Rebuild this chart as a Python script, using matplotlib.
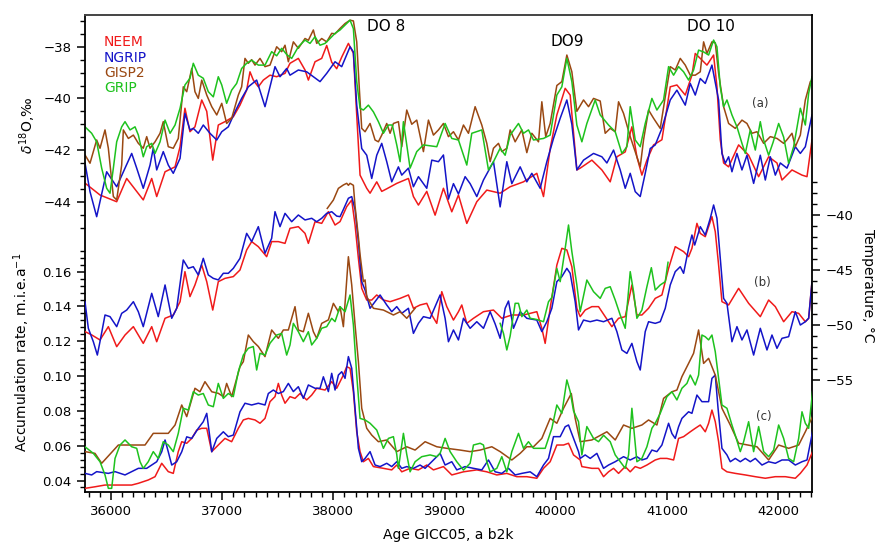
"""Greenland ice core records across DO 8-10: d18O, temperature and accumulation"""

import numpy as np
import matplotlib
matplotlib.use("Agg")
import matplotlib.pyplot as plt
from matplotlib.ticker import FixedLocator

# ---------------- data ----------------
# (a) d18O, permil
neem_a_age = [35766, 35901, 36051, 36141, 36290, 36366, 36411, 36486, 36576, 36621, 36665, 36710, 36755, 36816,
              36861, 36915, 36965, 37025, 37100, 37160, 37220, 37250, 37280, 37325, 37370, 37430, 37490, 37565,
              37610, 37685, 37745, 37775, 37835, 37895, 37940, 37985, 38030, 38075, 38135, 38180, 38210, 38240,
              38300, 38330, 38390, 38435, 38480, 38570, 38675, 38720, 38765, 38840, 38915, 38990, 39065, 39125,
              39200, 39290, 39380, 39500, 39590, 39710, 39830, 39890, 39950, 40010, 40085, 40130, 40190, 40220,
              40325, 40415, 40490, 40550, 40625, 40685, 40730, 40775, 40820, 40880, 40955, 41030, 41090, 41165,
              41225, 41255, 41300, 41360, 41420, 41450, 41480, 41510, 41555, 41645, 41735, 41825, 41915, 41990,
              42035, 42125, 42215, 42260, 42305]
neem_a = [-43.28, -43.74, -44.0, -43.1, -43.93, -43.1, -43.8, -42.84, -42.65, -41.87, -40.38, -41.29, -41.1, -40.06,
          -40.5, -42.39, -41.03, -40.9, -40.71, -40.26, -39.68, -38.97, -39.29, -39.55, -39.29, -39.1, -39.16, -39.03,
          -38.64, -38.45, -38.9, -39.29, -38.58, -38.45, -37.95, -38.6, -38.85, -38.4, -37.87, -38.25, -40.64, -42.97,
          -43.48, -43.67, -43.23, -43.6, -43.5, -43.29, -43.1, -43.8, -44.13, -43.6, -44.52, -43.48, -44.39, -43.74,
          -44.84, -44.0, -43.55, -43.67, -43.42, -43.23, -42.9, -43.8, -41.94, -40.64, -39.61, -39.87, -42.77, -42.7,
          -42.39, -42.77, -43.23, -42.26, -42.07, -41.1, -42.26, -42.97, -42.39, -41.8, -41.6, -39.55, -39.48, -39.87,
          -39.1, -38.26, -38.45, -38.71, -38.32, -39.55, -41.6, -42.5, -42.65, -41.8, -42.2, -43.03, -42.26, -42.5,
          -43.16, -42.77, -42.97, -43.03, -41.61]

ngrip_a_age = [35766, 35811, 35871, 35916, 35961, 36051, 36126, 36186, 36231, 36290, 36351, 36380, 36411, 36470,
               36515, 36560, 36621, 36665, 36710, 36740, 36785, 36830, 36890, 36951, 36996, 37055, 37115, 37175,
               37235, 37310, 37385, 37430, 37475, 37520, 37580, 37610, 37685, 37760, 37820, 37880, 37940, 38015,
               38075, 38150, 38180, 38210, 38255, 38300, 38345, 38390, 38435, 38480, 38525, 38585, 38615, 38675,
               38720, 38765, 38840, 38885, 38945, 38990, 39035, 39080, 39125, 39185, 39230, 39290, 39350, 39440,
               39500, 39560, 39605, 39680, 39740, 39785, 39860, 39920, 39980, 40040, 40100, 40145, 40190, 40250,
               40340, 40415, 40460, 40520, 40580, 40625, 40670, 40715, 40760, 40805, 40850, 40895, 40955, 41030,
               41090, 41165, 41210, 41255, 41300, 41345, 41405, 41465, 41495, 41525, 41555, 41585, 41630, 41675,
               41720, 41780, 41840, 41885, 41930, 41975, 42020, 42080, 42155, 42200, 42245, 42305]
ngrip_a = [-42.5, -43.61, -44.58, -43.7, -42.84, -43.42, -42.7, -42.13, -42.7, -43.48, -42.58, -41.93, -42.77, -42.06,
           -42.58, -42.9, -42.32, -40.58, -41.22, -41.16, -41.35, -41.03, -41.35, -41.61, -41.29, -41.1, -40.52, -40.0,
           -39.55, -39.29, -40.32, -39.55, -38.77, -39.16, -38.84, -39.1, -38.9, -38.97, -39.16, -39.35, -39.03, -38.58,
           -38.77, -38.0, -38.2, -40.25, -41.94, -42.2, -43.1, -42.2, -41.74, -42.45, -43.23, -42.65, -42.97, -42.7,
           -43.42, -43.03, -43.48, -42.39, -42.45, -42.19, -43.9, -43.3, -43.7, -43.03, -43.3, -43.8, -43.16, -42.45,
           -44.2, -42.45, -43.3, -42.65, -43.23, -42.9, -43.48, -42.45, -41.55, -40.77, -40.06, -41.0, -42.77, -42.39,
           -42.13, -42.26, -42.5, -42.0, -42.77, -43.48, -42.9, -43.61, -43.8, -42.9, -41.94, -41.8, -41.16, -40.06,
           -39.68, -40.26, -39.42, -39.87, -39.23, -39.42, -38.71, -40.06, -42.13, -42.51, -42.26, -42.84, -42.13, -42.77,
           -42.2, -43.29, -42.2, -43.16, -42.26, -42.97, -42.5, -42.7, -41.87, -42.13, -41.87, -40.64]

gisp2_a_age = [35766, 35811, 35871, 35901, 35946, 35976, 36021, 36051, 36096, 36111, 36156, 36201, 36246, 36290,
               36321, 36351, 36396, 36441, 36470, 36515, 36560, 36605, 36650, 36681, 36726, 36755, 36785, 36816,
               36861, 36906, 36951, 36996, 37040, 37085, 37145, 37175, 37205, 37235, 37265, 37295, 37340, 37385,
               37430, 37490, 37535, 37565, 37595, 37640, 37685, 37745, 37775, 37820, 37850, 37895, 37940, 37985,
               38015, 38060, 38105, 38150, 38180, 38210, 38235, 38255, 38285, 38330, 38375, 38405, 38435, 38480,
               38510, 38540, 38585, 38615, 38660, 38705, 38750, 38810, 38855, 38900, 38945, 38990, 39035, 39080,
               39125, 39170, 39215, 39275, 39335, 39380, 39410, 39440, 39485, 39515, 39560, 39590, 39635, 39695,
               39740, 39785, 39845, 39875, 39910, 39950, 40010, 40055, 40100, 40145, 40190, 40250, 40295, 40340,
               40400, 40445, 40490, 40535, 40565, 40610, 40670, 40715, 40760, 40790, 40835, 40880, 40940, 40985,
               41030, 41075, 41120, 41165, 41210, 41255, 41300, 41330, 41360, 41405, 41435, 41465, 41510, 41555,
               41615, 41675, 41720, 41765, 41810, 41870, 41930, 41990, 42050, 42080, 42125, 42155, 42200, 42245,
               42290, 42305]
gisp2_a = [-42.19, -42.51, -41.61, -41.93, -41.22, -41.93, -43.8, -43.93, -42.58, -41.22, -41.55, -41.42, -41.74, -41.93,
           -41.48, -41.93, -41.68, -41.35, -40.9, -41.87, -41.93, -41.55, -39.55, -39.74, -38.84, -39.74, -40.0, -39.29,
           -39.87, -40.32, -40.64, -40.19, -40.97, -40.77, -39.87, -39.55, -38.45, -38.64, -38.5, -38.71, -38.45, -38.77,
           -38.71, -38.0, -38.19, -37.94, -38.58, -37.81, -38.06, -37.68, -37.75, -37.35, -37.87, -37.68, -37.81, -37.48,
           -37.5, -37.29, -37.1, -36.97, -37.0, -37.81, -39.74, -41.16, -41.29, -40.97, -41.61, -41.68, -41.42, -40.97,
           -41.35, -40.97, -40.9, -41.87, -40.45, -41.0, -40.84, -42.06, -40.84, -41.42, -41.22, -40.97, -41.48, -41.29,
           -41.61, -41.03, -41.35, -40.32, -41.03, -41.74, -42.45, -41.93, -41.74, -42.06, -41.93, -41.22, -41.68, -41.22,
           -42.1, -41.35, -41.68, -40.13, -41.48, -40.97, -39.5, -39.35, -38.32, -38.97, -40.5, -40.06, -40.32, -40.0,
           -40.1, -41.35, -41.16, -41.29, -40.13, -40.58, -41.48, -42.06, -42.65, -41.6, -40.45, -40.77, -41.16, -39.94,
           -38.77, -38.9, -38.45, -38.71, -39.1, -39.1, -38.97, -37.81, -38.26, -37.81, -37.85, -39.03, -40.32, -40.97,
           -41.16, -40.84, -40.97, -41.35, -41.29, -41.74, -41.48, -41.55, -41.74, -41.6, -41.35, -41.87, -41.42, -40.06,
           -39.35, -39.3]

grip_a_age = [35766, 35826, 35871, 35916, 35961, 35991, 36021, 36051, 36096, 36126, 36171, 36216, 36246, 36290,
              36321, 36366, 36396, 36441, 36486, 36531, 36576, 36621, 36665, 36710, 36740, 36785, 36830, 36875,
              36920, 36965, 36996, 37040, 37085, 37130, 37175, 37220, 37265, 37325, 37385, 37445, 37490, 37535,
              37580, 37625, 37685, 37745, 37790, 37835, 37880, 37925, 37970, 38015, 38060, 38105, 38150, 38180,
              38210, 38240, 38270, 38315, 38360, 38405, 38450, 38495, 38530, 38570, 38600, 38630, 38690, 38750,
              38810, 38930, 39005, 39065, 39125, 39200, 39245, 39335, 39395, 39440, 39500, 39545, 39590, 39665,
              39710, 39755, 39800, 39890, 39950, 40010, 40055, 40100, 40145, 40190, 40235, 40280, 40355, 40400,
              40475, 40535, 40595, 40640, 40670, 40715, 40760, 40805, 40865, 40910, 40970, 41015, 41060, 41105,
              41150, 41195, 41240, 41285, 41330, 41375, 41420, 41450, 41480, 41510, 41540, 41585, 41630, 41675,
              41705, 41750, 41795, 41840, 41870, 41915, 41955, 42005, 42050, 42095, 42140, 42200, 42245, 42275,
              42305]
grip_a = [-41.1, -41.35, -41.68, -42.7, -43.48, -43.67, -42.7, -41.68, -41.1, -40.9, -41.22, -41.1, -41.42, -42.26,
          -41.87, -41.74, -42.13, -41.68, -40.84, -41.35, -41.03, -40.38, -39.48, -39.22, -38.64, -39.1, -39.22, -39.74,
          -39.94, -39.16, -39.48, -40.19, -39.68, -39.42, -38.84, -38.64, -38.52, -38.71, -38.71, -38.19, -38.35, -38.06,
          -38.3, -38.45, -38.0, -37.74, -37.87, -37.61, -37.94, -37.87, -37.68, -37.48, -37.35, -37.16, -36.97, -37.3,
          -39.35, -40.38, -40.45, -40.26, -40.52, -40.9, -41.35, -41.03, -41.03, -41.8, -42.45, -40.9, -42.7, -42.06,
          -41.8, -41.87, -40.97, -41.55, -41.61, -42.58, -41.35, -41.22, -42.77, -42.45, -41.93, -42.2, -41.42, -40.97,
          -41.35, -41.22, -41.61, -41.55, -41.42, -39.87, -39.55, -38.45, -39.35, -41.03, -41.68, -40.97, -40.06, -40.64,
          -41.03, -41.29, -42.13, -41.87, -40.32, -41.61, -41.87, -40.97, -40.0, -40.45, -40.06, -38.77, -39.1, -38.77,
          -38.97, -39.29, -38.9, -38.13, -38.2, -38.32, -37.74, -38.0, -39.55, -40.32, -40.06, -40.64, -41.1, -41.74,
          -42.13, -41.22, -42.0, -40.9, -41.61, -42.2, -41.7, -40.97, -41.5, -42.51, -41.87, -40.38, -41.03, -39.8,
          -39.16]

# (b) temperature, deg C
neem_b_age = [35766, 35826, 35901, 35976, 36051, 36126, 36201, 36290, 36366, 36411, 36486, 36560, 36621, 36665,
              36710, 36755, 36816, 36861, 36915, 36965, 37025, 37100, 37160, 37220, 37265, 37325, 37400, 37445,
              37505, 37565, 37610, 37685, 37745, 37775, 37835, 37895, 37955, 38015, 38060, 38120, 38165, 38195,
              38225, 38255, 38300, 38345, 38390, 38450, 38510, 38600, 38675, 38720, 38780, 38840, 38885, 38930,
              38975, 39020, 39080, 39125, 39155, 39200, 39260, 39350, 39440, 39515, 39605, 39710, 39830, 39875,
              39905, 39950, 40010, 40055, 40100, 40145, 40190, 40220, 40265, 40325, 40385, 40445, 40505, 40565,
              40625, 40685, 40730, 40775, 40835, 40895, 40955, 41015, 41075, 41150, 41195, 41225, 41270, 41300,
              41345, 41405, 41435, 41465, 41495, 41555, 41645, 41735, 41840, 41915, 41975, 42050, 42125, 42185,
              42245, 42275, 42305]
neem_b = [-50.6, -50.9, -51.36, -50.15, -51.97, -50.91, -50.15, -51.67, -50.15, -51.52, -49.39, -49.09, -47.88, -45.15,
          -47.42, -46.36, -44.55, -46.06, -48.64, -46.06, -45.76, -45.6, -45.0, -43.18, -42.42, -42.88, -43.79, -42.42,
          -42.42, -42.58, -41.21, -41.06, -41.67, -42.58, -40.61, -40.76, -39.7, -40.91, -40.6, -39.24, -38.64, -40.91,
          -43.94, -46.67, -47.73, -47.73, -47.27, -47.73, -47.88, -47.58, -47.27, -48.48, -48.18, -48.03, -49.09, -49.85,
          -46.97, -48.33, -49.55, -48.79, -48.18, -49.85, -49.39, -48.79, -48.64, -49.39, -49.09, -49.09, -48.79, -50.3,
          -51.67, -48.48, -44.55, -43.03, -43.18, -44.7, -48.48, -49.24, -48.64, -48.33, -48.33, -49.24, -50.15, -49.39,
          -49.24, -46.36, -49.09, -49.09, -48.48, -47.58, -47.27, -44.85, -42.88, -43.33, -43.79, -43.03, -40.76, -41.67,
          -41.97, -40.15, -41.52, -44.55, -47.88, -48.18, -46.67, -48.03, -49.24, -47.73, -48.33, -49.7, -48.79, -48.94,
          -49.7, -49.39, -46.06]

ngrip_b_age = [35766, 35796, 35841, 35877, 35901, 35946, 35991, 36051, 36096, 36141, 36201, 36246, 36290, 36366,
               36425, 36486, 36546, 36591, 36650, 36695, 36740, 36785, 36830, 36875, 36920, 36965, 37010, 37055,
               37100, 37160, 37220, 37265, 37325, 37385, 37445, 37475, 37520, 37565, 37625, 37685, 37745, 37805,
               37850, 37895, 37940, 37985, 38030, 38060, 38090, 38135, 38165, 38195, 38225, 38255, 38285, 38330,
               38375, 38420, 38480, 38525, 38570, 38615, 38675, 38720, 38765, 38810, 38870, 38915, 38960, 39005,
               39035, 39080, 39125, 39170, 39230, 39290, 39350, 39410, 39455, 39500, 39545, 39575, 39620, 39680,
               39740, 39830, 39875, 39920, 39965, 40010, 40055, 40100, 40130, 40175, 40205, 40250, 40310, 40370,
               40430, 40505, 40550, 40595, 40640, 40685, 40730, 40760, 40805, 40835, 40895, 40940, 40985, 41030,
               41075, 41120, 41150, 41195, 41225, 41250, 41300, 41345, 41390, 41420, 41450, 41480, 41510, 41540,
               41585, 41630, 41675, 41720, 41780, 41840, 41900, 41945, 41990, 42035, 42095, 42155, 42200, 42245,
               42275, 42305]
ngrip_b = [-47.88, -50.3, -51.52, -52.73, -51.5, -49.09, -49.24, -50.15, -48.94, -48.64, -47.88, -48.8, -50.15, -47.12,
           -49.24, -46.36, -49.39, -48.48, -44.09, -44.85, -44.7, -45.45, -43.94, -45.45, -45.76, -45.9, -45.3, -45.3,
           -44.85, -43.94, -41.67, -42.42, -41.06, -43.48, -42.12, -39.7, -41.06, -39.85, -40.61, -40.0, -40.45, -40.3,
           -40.61, -40.3, -39.85, -39.7, -40.1, -40.15, -39.5, -38.48, -38.33, -39.5, -42.42, -46.06, -46.82, -48.48,
           -47.88, -47.27, -48.18, -48.79, -48.33, -48.94, -48.48, -50.76, -49.85, -49.24, -49.39, -48.33, -47.27, -49.39,
           -51.52, -50.45, -51.36, -49.39, -50.3, -49.7, -50.3, -48.79, -49.9, -51.21, -48.48, -47.82, -50.3, -48.79,
           -49.39, -49.55, -50.6, -49.7, -48.48, -46.06, -45.6, -44.85, -45.3, -47.88, -50.45, -49.55, -49.7, -49.55,
           -49.7, -49.39, -50.6, -52.27, -52.58, -51.67, -53.33, -54.09, -50.6, -49.7, -49.85, -49.7, -48.48, -46.36,
           -45.15, -44.7, -45.3, -43.03, -41.82, -42.73, -41.06, -41.82, -40.3, -39.09, -40.3, -43.94, -47.58, -48.03,
           -51.52, -50.15, -51.36, -50.45, -52.73, -50.3, -52.27, -50.91, -52.12, -51.21, -51.06, -48.79, -50.0, -49.7,
           -49.39, -46.06]

gisp2_b_age = [37945, 38000, 38045, 38090, 38120, 38135, 38150, 38180, 38195, 38225, 38240, 38270, 38285, 38300,
               38360, 38450, 38540, 38600, 38660, 38735]
gisp2_b = [-39.4, -38.64, -37.58, -37.27, -37.12, -37.3, -37.12, -37.3, -39.2, -42.0, -43.6, -46.06, -45.9, -47.42,
           -48.48, -48.64, -49.09, -48.79, -49.39, -48.48]

grip_b_age = [39500, 39530, 39560, 39590, 39635, 39665, 39695, 39740, 39770, 39830, 39890, 39935, 39965, 40010,
              40040, 40085, 40115, 40145, 40190, 40220, 40280, 40340, 40400, 40445, 40490, 40535, 40580, 40625,
              40670, 40700, 40730, 40775, 40820, 40860, 40895, 40940, 40985, 41010]
grip_b = [-49.85, -50.76, -52.27, -51.0, -48.03, -48.03, -49.24, -48.64, -49.39, -49.5, -49.7, -47.88, -47.5, -44.85,
          -46.06, -43.03, -40.91, -43.33, -46.36, -48.79, -45.91, -46.97, -47.58, -46.67, -46.52, -47.73, -49.09, -50.3,
          -45.15, -46.97, -49.39, -48.64, -46.52, -44.79, -46.82, -46.36, -46.06, -44.3]

# (c) accumulation rate, m ice eq. per year
neem_c_age = [35766, 35856, 35946, 36186, 36246, 36335, 36396, 36456, 36515, 36560, 36605, 36636, 36681, 36726,
              36771, 36816, 36861, 36906, 36965, 37025, 37085, 37145, 37190, 37235, 37295, 37340, 37385, 37430,
              37475, 37505, 37535, 37565, 37610, 37655, 37700, 37760, 37805, 37850, 37925, 37985, 38030, 38090,
              38120, 38150, 38180, 38210, 38240, 38270, 38315, 38360, 38450, 38525, 38570, 38615, 38690, 38765,
              38840, 38900, 38990, 39065, 39170, 39290, 39380, 39470, 39560, 39650, 39740, 39830, 39890, 39950,
              40010, 40070, 40115, 40160, 40220, 40235, 40325, 40385, 40430, 40475, 40520, 40565, 40625, 40670,
              40715, 40760, 40820, 40895, 40940, 41000, 41060, 41105, 41150, 41210, 41255, 41300, 41345, 41375,
              41405, 41435, 41465, 41495, 41540, 41615, 41705, 41795, 41885, 41975, 42065, 42155, 42200, 42260,
              42310]
neem_c = [0.0355, 0.0364, 0.0374, 0.0374, 0.0384, 0.0403, 0.0422, 0.0499, 0.0451, 0.0441, 0.0566, 0.0623, 0.0614, 0.0642,
          0.069, 0.070, 0.070, 0.0566, 0.0604, 0.0642, 0.0623, 0.070, 0.0748, 0.0757, 0.0748, 0.0729, 0.0757, 0.0853,
          0.0882, 0.0958, 0.0891, 0.0844, 0.0882, 0.0872, 0.090, 0.0863, 0.0891, 0.093, 0.092, 0.0968, 0.093, 0.1006,
          0.1054, 0.1045, 0.091, 0.068, 0.0566, 0.0508, 0.0527, 0.048, 0.047, 0.0461, 0.0489, 0.045, 0.047, 0.0461,
          0.0489, 0.0461, 0.048, 0.0432, 0.045, 0.0461, 0.045, 0.0432, 0.0441, 0.0422, 0.0422, 0.0413, 0.047, 0.0508,
          0.0604, 0.0604, 0.0614, 0.0547, 0.0518, 0.048, 0.047, 0.047, 0.0422, 0.045, 0.047, 0.0441, 0.048, 0.045,
          0.048, 0.047, 0.0489, 0.0518, 0.0527, 0.0527, 0.0518, 0.0642, 0.0652, 0.068, 0.070, 0.0719, 0.068, 0.0729,
          0.0805, 0.0738, 0.0623, 0.047, 0.045, 0.0441, 0.0432, 0.0422, 0.0413, 0.0422, 0.0422, 0.0413, 0.0441, 0.0489,
          0.0566]

ngrip_c_age = [35766, 35826, 35871, 35976, 36036, 36126, 36246, 36321, 36366, 36411, 36456, 36486, 36515, 36546,
               36591, 36636, 36681, 36726, 36785, 36830, 36861, 36906, 36951, 37010, 37055, 37100, 37160, 37205,
               37265, 37325, 37385, 37415, 37460, 37505, 37550, 37595, 37640, 37685, 37730, 37775, 37835, 37880,
               37910, 37955, 37985, 38015, 38045, 38075, 38105, 38135, 38165, 38195, 38225, 38255, 38285, 38330,
               38375, 38420, 38480, 38525, 38570, 38615, 38660, 38720, 38780, 38825, 38885, 38960, 39005, 39065,
               39110, 39185, 39260, 39335, 39395, 39455, 39515, 39575, 39635, 39695, 39770, 39830, 39890, 39935,
               39980, 40040, 40085, 40115, 40160, 40205, 40220, 40265, 40310, 40370, 40430, 40475, 40535, 40610,
               40670, 40730, 40775, 40820, 40865, 40910, 40955, 41015, 41045, 41075, 41105, 41135, 41195, 41225,
               41270, 41315, 41375, 41405, 41435, 41460, 41495, 41540, 41570, 41615, 41660, 41705, 41750, 41795,
               41855, 41915, 41975, 42035, 42095, 42155, 42215, 42260, 42310]
ngrip_c = [0.0441, 0.0432, 0.0451, 0.0441, 0.0451, 0.0432, 0.047, 0.047, 0.0489, 0.0508, 0.0565, 0.0633, 0.0565, 0.0489,
           0.0508, 0.0565, 0.0651, 0.0642, 0.070, 0.0738, 0.0786, 0.0565, 0.0642, 0.068, 0.0652, 0.0661, 0.0795, 0.0844,
           0.0834, 0.0844, 0.0834, 0.090, 0.092, 0.090, 0.0911, 0.0958, 0.0911, 0.0939, 0.0872, 0.0949, 0.093, 0.093,
           0.0996, 0.0911, 0.1016, 0.092, 0.1006, 0.1025, 0.0987, 0.1112, 0.1045, 0.0815, 0.0585, 0.0508, 0.0527, 0.0566,
           0.0489, 0.048, 0.0499, 0.048, 0.0508, 0.047, 0.048, 0.047, 0.0489, 0.047, 0.0508, 0.0556, 0.0489, 0.0508,
           0.0461, 0.048, 0.047, 0.0461, 0.0518, 0.045, 0.0441, 0.047, 0.0432, 0.0441, 0.045, 0.0422, 0.0489, 0.0527,
           0.0652, 0.0652, 0.0709, 0.0719, 0.0642, 0.0566, 0.0527, 0.0547, 0.0527, 0.0556, 0.047, 0.0489, 0.0508, 0.0537,
           0.0518, 0.0537, 0.0518, 0.0527, 0.0575, 0.0566, 0.0604, 0.0729, 0.067, 0.0642, 0.0709, 0.0757, 0.0795, 0.0786,
           0.0891, 0.0853, 0.0853, 0.0987, 0.1006, 0.0815, 0.0585, 0.0547, 0.0508, 0.0527, 0.0508, 0.0527, 0.0508, 0.0527,
           0.0489, 0.0508, 0.0499, 0.0518, 0.0518, 0.0489, 0.0508, 0.0518, 0.068]

gisp2_c_age = [35766, 35856, 35916, 36066, 36306, 36380, 36515, 36576, 36636, 36681, 36755, 36800, 36845, 36906,
               36965, 37010, 37040, 37085, 37160, 37190, 37235, 37280, 37325, 37385, 37445, 37505, 37550, 37595,
               37655, 37685, 37730, 37775, 37820, 37850, 37895, 37955, 38000, 38045, 38060, 38090, 38135, 38165,
               38195, 38225, 38255, 38300, 38345, 38405, 38480, 38570, 38660, 38735, 38825, 38930, 39020, 39140,
               39230, 39320, 39425, 39500, 39605, 39680, 39740, 39800, 39875, 39950, 40010, 40070, 40140, 40175,
               40220, 40325, 40460, 40535, 40610, 40685, 40775, 40835, 40910, 40970, 41045, 41090, 41135, 41195,
               41240, 41285, 41330, 41375, 41435, 41495, 41570, 41645, 41810, 41915, 42005, 42095, 42185, 42245,
               42310]
gisp2_c = [0.0566, 0.0556, 0.0499, 0.0604, 0.0604, 0.0671, 0.0671, 0.0719, 0.0834, 0.0767, 0.093, 0.091, 0.0968, 0.091,
           0.0901, 0.0882, 0.0958, 0.0882, 0.1054, 0.1083, 0.1236, 0.1198, 0.117, 0.1112, 0.1265, 0.1217, 0.1265, 0.1265,
           0.1399, 0.1265, 0.1255, 0.1361, 0.1255, 0.1217, 0.1303, 0.1323, 0.1418, 0.137, 0.1399, 0.1284, 0.1686, 0.1524,
           0.1294, 0.1083, 0.0815, 0.070, 0.0661, 0.0623, 0.0633, 0.0566, 0.0594, 0.0575, 0.0623, 0.0594, 0.0585, 0.0575,
           0.0566, 0.0575, 0.0594, 0.0566, 0.0518, 0.0556, 0.0594, 0.0594, 0.0642, 0.0757, 0.0729, 0.0815, 0.090, 0.0757,
           0.0623, 0.0633, 0.068, 0.0633, 0.0719, 0.070, 0.0719, 0.0748, 0.0719, 0.0872, 0.091, 0.092, 0.0997, 0.1073,
           0.1131, 0.1265, 0.1073, 0.1102, 0.1006, 0.0815, 0.0719, 0.0614, 0.0594, 0.0518, 0.0604, 0.0585, 0.0604, 0.068,
           0.0767]

grip_c_age = [35766, 35841, 35901, 35946, 35976, 36006, 36036, 36081, 36126, 36186, 36231, 36261, 36290, 36335,
              36380, 36425, 36470, 36515, 36560, 36605, 36650, 36695, 36740, 36785, 36830, 36875, 36920, 36965,
              37010, 37055, 37100, 37145, 37190, 37235, 37280, 37310, 37340, 37385, 37430, 37490, 37535, 37580,
              37610, 37640, 37685, 37730, 37775, 37805, 37850, 37895, 37940, 37985, 38015, 38060, 38105, 38150,
              38180, 38210, 38240, 38285, 38330, 38390, 38450, 38495, 38540, 38570, 38585, 38630, 38660, 38690,
              38735, 38795, 38870, 38930, 38960, 39005, 39050, 39110, 39170, 39230, 39260, 39320, 39350, 39380,
              39410, 39470, 39515, 39560, 39605, 39665, 39710, 39755, 39800, 39905, 39965, 40010, 40055, 40100,
              40130, 40160, 40205, 40235, 40280, 40340, 40385, 40430, 40490, 40535, 40580, 40625, 40655, 40685,
              40730, 40775, 40820, 40865, 40895, 40940, 41000, 41045, 41090, 41135, 41180, 41210, 41255, 41285,
              41315, 41345, 41375, 41405, 41435, 41465, 41495, 41540, 41585, 41615, 41660, 41690, 41735, 41780,
              41825, 41870, 41915, 41960, 42005, 42050, 42095, 42140, 42185, 42215, 42245, 42275, 42310]
grip_c = [0.0594, 0.0556, 0.0508, 0.0432, 0.0355, 0.0355, 0.0527, 0.0604, 0.0633, 0.0594, 0.0585, 0.0508, 0.047, 0.0508,
          0.0566, 0.0527, 0.0623, 0.0604, 0.0566, 0.0671, 0.0815, 0.0805, 0.091, 0.0891, 0.090, 0.0834, 0.0824, 0.0958,
          0.0872, 0.090, 0.0882, 0.1025, 0.1121, 0.116, 0.117, 0.1035, 0.1131, 0.1121, 0.1189, 0.1236, 0.1245, 0.1121,
          0.1179, 0.1303, 0.1255, 0.1198, 0.1255, 0.1179, 0.1217, 0.1275, 0.1284, 0.1332, 0.1313, 0.1399, 0.137, 0.1466,
          0.1294, 0.1006, 0.0757, 0.0748, 0.0729, 0.069, 0.0585, 0.0642, 0.0652, 0.055, 0.047, 0.0671, 0.055, 0.045,
          0.0508, 0.0537, 0.0547, 0.0537, 0.0556, 0.0642, 0.0566, 0.0508, 0.046, 0.0499, 0.0604, 0.0614, 0.0604, 0.0508,
          0.045, 0.047, 0.0537, 0.045, 0.0566, 0.0671, 0.0585, 0.0623, 0.0585, 0.0585, 0.070, 0.0834, 0.0786, 0.0978,
          0.0911, 0.080, 0.0738, 0.0547, 0.071, 0.0642, 0.0623, 0.066, 0.0623, 0.0547, 0.0508, 0.047, 0.0547, 0.0815,
          0.0508, 0.0527, 0.0594, 0.070, 0.0729, 0.0786, 0.0882, 0.091, 0.0863, 0.093, 0.0958, 0.1006, 0.0949, 0.1006,
          0.1236, 0.1226, 0.1208, 0.1236, 0.114, 0.0987, 0.0834, 0.0815, 0.0719, 0.066, 0.0566, 0.0623, 0.0738, 0.0566,
          0.071, 0.0566, 0.0537, 0.0575, 0.0719, 0.0642, 0.0527, 0.0508, 0.0642, 0.0795, 0.0729, 0.070, 0.091]

names = ["NEEM", "NGRIP", "GISP2", "GRIP"]
colors = ["#f01a1a", "#1414c8", "#9a4812", "#1ec21e"]

# ---------------- figure ----------------
plt.rcParams['font.family'] = 'DejaVu Sans'
fig = plt.figure(figsize=(8.77, 5.43), dpi=100)
rect = [85 / 877, 1 - 492 / 543, 727 / 877, 477 / 543]

ax_d = fig.add_axes(rect)                     # d18O, left upper
ax_t = ax_d.twinx()                           # temperature, right
ax_a = fig.add_axes(rect, sharex=ax_d)        # accumulation, left lower
ax_a.patch.set_visible(False)

xlim = (35766, 42305)
ax_d.set_xlim(*xlim)
ax_d.set_ylim(-55.24, -36.77)
ax_t.set_ylim(-65.18, -21.82)
ax_a.set_ylim(0.0334, 0.3075)

lw = 1.1
series = [
    (ax_d, [(neem_a_age, neem_a), (ngrip_a_age, ngrip_a), (gisp2_a_age, gisp2_a), (grip_a_age, grip_a)]),
    (ax_t, [(neem_b_age, neem_b), (ngrip_b_age, ngrip_b), (gisp2_b_age, gisp2_b), (grip_b_age, grip_b)]),
    (ax_a, [(neem_c_age, neem_c), (ngrip_c_age, ngrip_c), (gisp2_c_age, gisp2_c), (grip_c_age, grip_c)]),
]
for ax, recs in series:
    for (age, val), col in zip(recs, colors):
        ax.plot(age, val, color=col, lw=lw)

# spines
for s in ["top", "right", "left", "bottom"]:
    ax_a.spines[s].set_visible(False)
    ax_t.spines[s].set_visible(False)
ax_t.spines["right"].set_visible(True)
ax_d.spines["right"].set_visible(False)
ax_d.spines["top"].set_color("#444444")
ax_d.spines["top"].set_linewidth(1.4)
ax_d.spines["left"].set_linewidth(1.3)
ax_d.spines["bottom"].set_linewidth(1.3)
ax_t.spines["right"].set_linewidth(1.3)

tick_font = 9.5
# x axis
ax_d.xaxis.set_major_locator(FixedLocator(np.arange(36000, 42001, 1000)))
ax_d.xaxis.set_minor_locator(FixedLocator(np.arange(35800, 42301, 100)))
ax_d.tick_params(axis="x", which="major", length=6, width=1.1, labelsize=tick_font, direction="out")
ax_d.tick_params(axis="x", which="minor", length=3.5, width=1.0, direction="out")
ax_a.tick_params(axis="x", which="both", bottom=False, labelbottom=False)

# d18O ticks
ax_d.yaxis.set_major_locator(FixedLocator([-44, -42, -40, -38]))
ax_d.yaxis.set_minor_locator(FixedLocator(np.arange(-45, -36.9, 0.5)))
ax_d.tick_params(axis="y", which="major", length=6, width=1.1, labelsize=tick_font, direction="out")
ax_d.tick_params(axis="y", which="minor", length=3.5, width=1.0, direction="out")

# accumulation ticks
ax_a.yaxis.set_major_locator(FixedLocator([0.04, 0.06, 0.08, 0.10, 0.12, 0.14, 0.16]))
ax_a.yaxis.set_minor_locator(FixedLocator(np.arange(0.036, 0.1725, 0.004)))
ax_a.yaxis.set_major_formatter(matplotlib.ticker.FormatStrFormatter("%.2f"))
ax_a.tick_params(axis="y", which="major", length=6, width=1.1, labelsize=tick_font, direction="out")
ax_a.tick_params(axis="y", which="minor", length=3.5, width=1.0, direction="out")

# temperature ticks
ax_t.yaxis.set_major_locator(FixedLocator([-55, -50, -45, -40]))
ax_t.yaxis.set_minor_locator(FixedLocator(np.arange(-55, -36.5, 1.0)))
ax_t.tick_params(axis="y", which="major", length=6, width=1.1, labelsize=tick_font, direction="out")
ax_t.tick_params(axis="y", which="minor", length=3.5, width=1.0, direction="out")

# axis titles
fig.text(28 / 877, 1 - 125 / 543, r"$\delta^{18}$O,‰", rotation=90, ha="center", va="center", fontsize=10)
fig.text(22 / 877, 1 - 352 / 543, r"Accumulation rate, m.i.e.a$^{-1}$", rotation=90, ha="center", va="center",
         fontsize=10)
fig.text(868 / 877, 1 - 286 / 543, "Temperature, °C", rotation=270, ha="center", va="center", fontsize=10)
fig.text(448 / 877, 1 - 535 / 543, "Age GICC05, a b2k", ha="center", va="center", fontsize=10)

# event labels
ax_d.text(38470, -37.2, "DO 8", ha="center", va="center", fontsize=11)
ax_d.text(40100, -37.8, "DO9", ha="center", va="center", fontsize=11)
ax_d.text(41400, -37.2, "DO 10", ha="center", va="center", fontsize=11)
ax_d.text(41840, -40.2, "(a)", ha="center", va="center", fontsize=8.5, color="#333333")
ax_t.text(41860, -46.1, "(b)", ha="center", va="center", fontsize=8.5, color="#333333")
ax_a.text(41870, 0.0767, "(c)", ha="center", va="center", fontsize=8.5, color="#333333")

# legend as coloured text
for i, (nm, col) in enumerate(zip(names, colors)):
    fig.text(104 / 877, 1 - (42 + 15.5 * i) / 543, nm, color=col, fontsize=10, ha="left", va="center")

fig.savefig("out.png", dpi=100)
